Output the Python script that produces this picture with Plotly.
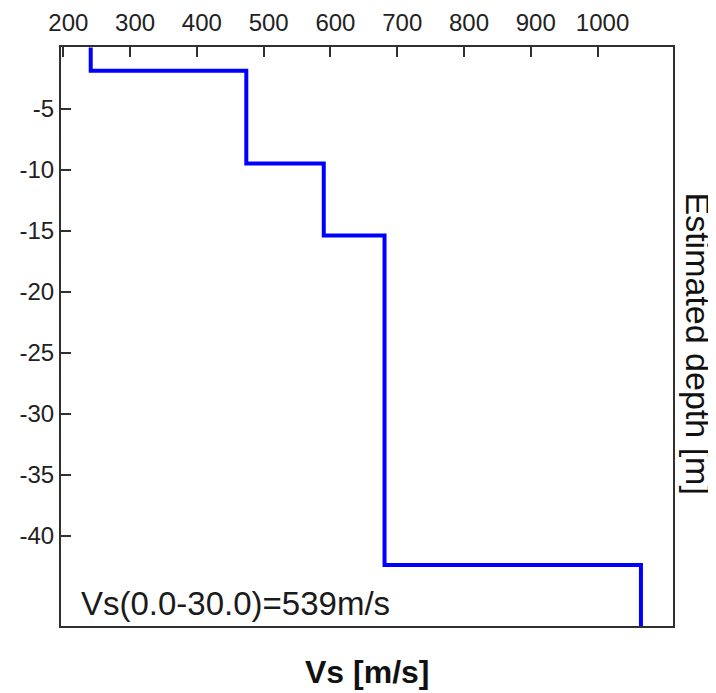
import plotly.graph_objects as go

# Layer model
vs_layers = [241, 474, 590, 681, 1065]          # Vs [m/s]
depth_top = [0.0, 1.9, 9.5, 15.4, 42.4]         # top of each layer [m]
depth_bottom = [1.9, 9.5, 15.4, 42.4, 47.6]     # bottom of each layer [m]

x_ticks = [200, 300, 400, 500, 600, 700, 800, 900, 1000]
y_ticks = [-5, -10, -15, -20, -25, -30, -35, -40]
y_tick_text = ["-5", "-10", "-15", "-20", "-25", "-30", "-35", "-40"]
vs30_label = "Vs(0.0-30.0)=539m/s"

xs, ys = [], []
for v, t, b in zip(vs_layers, depth_top, depth_bottom):
    xs += [v, v]
    ys += [-t, -b]

fig = go.Figure()
fig.add_trace(go.Scatter(x=xs, y=ys, mode="lines",
                         line=dict(color="#0000FF", width=4),
                         showlegend=False, hoverinfo="skip"))

axis_font = dict(family="Liberation Sans, Arial, sans-serif", size=24, color="#222222")

fig.update_layout(
    width=708, height=685,
    margin=dict(l=53, r=43, t=39, b=67),
    paper_bgcolor="white", plot_bgcolor="white",
    xaxis=dict(side="top", range=[196.5, 1113], tickvals=x_ticks,
               ticks="inside", ticklen=10, tickwidth=2, tickcolor="#303030",
               ticklabelstandoff=4, ticklabelshift=5, automargin=False,
               showline=True, linewidth=2, linecolor="#303030", mirror=True,
               showgrid=False, zeroline=False, tickfont=axis_font),
    yaxis=dict(range=[-47.4, 0.05], tickvals=y_ticks, ticktext=y_tick_text,
               ticks="inside", ticklen=10, tickwidth=2, tickcolor="#303030",
               automargin=False,
               showline=True, linewidth=2, linecolor="#303030", mirror=True,
               showgrid=False, zeroline=False, tickfont=axis_font),
    annotations=[
        dict(text=vs30_label, xref="paper", yref="paper", x=0.029, y=0.038,
             xanchor="left", yanchor="middle", showarrow=False,
             font=dict(family="Liberation Sans, Arial, sans-serif", size=33, color="#1a1a1a")),
        dict(text="<b>Vs [m/s]</b>", xref="paper", yref="paper", x=0.5, y=0, yshift=-46,
             xanchor="center", yanchor="middle", showarrow=False,
             font=dict(family="Liberation Sans, Arial, sans-serif", size=32, color="#111111")),
        dict(text="Estimated depth [m]", xref="paper", yref="paper", x=1.0, xshift=25,
             y=0.5, yshift=-7, xanchor="center", yanchor="middle", textangle=90, showarrow=False,
             font=dict(family="Liberation Sans, Arial, sans-serif", size=34, color="#111111")),
    ],
)

fig.write_html("out.html")
